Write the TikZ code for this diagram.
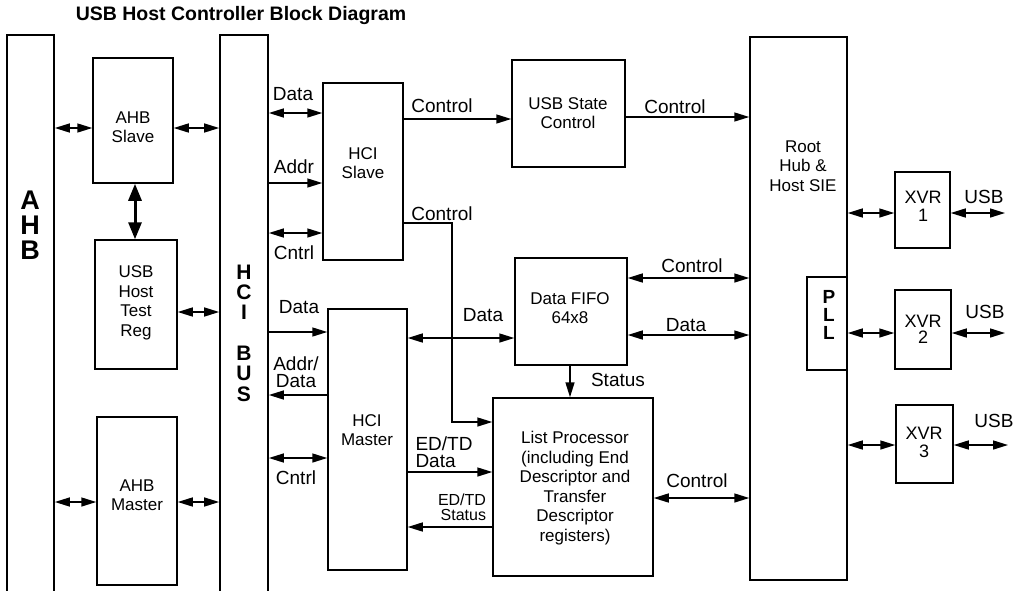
\documentclass[tikz,border=0pt]{standalone}
\usepackage{fontspec}
\setmainfont{Liberation Sans}
\usetikzlibrary{arrows.meta}
\begin{document}
\begin{tikzpicture}[x=1pt,y=-1pt,
  box/.style={draw, line width=1.5pt, inner sep=0pt},
  txt/.style={font=\fontsize{17}{19.5}\selectfont, align=center, inner sep=0pt},
  lbl/.style={font=\fontsize{19}{17.5}\selectfont, align=center, inner sep=0pt},
  big/.style={font=\fontsize{21}{20.3}\selectfont\bfseries, align=center, inner sep=0pt},
  conn/.style={line width=1.5pt},
  >={Triangle[length=15pt,width=9pt]}]
\useasboundingbox (0,0) rectangle (1020,590);
\clip (0,0) rectangle (1020,590);
% title
\node[font=\fontsize{19.5}{19.5}\selectfont\bfseries, inner sep=0pt] (title) at (241,15) {USB Host Controller Block Diagram};
% bars and boxes
\node[box, line width=1.7pt, minimum width=47pt, minimum height=585pt] (ahb) at (30.5,327.5) {};
\node[box, line width=1.7pt, minimum width=48pt, minimum height=585pt] (hcibus) at (244,327.5) {};
\node[box, minimum width=80pt, minimum height=125pt] (ahbslave) at (133,120.5) {};
\node[box, minimum width=82pt, minimum height=129pt] (testreg) at (136,304.5) {};
\node[box, minimum width=80pt, minimum height=168pt] (ahbmaster) at (137,501) {};
\node[box, minimum width=80pt, minimum height=177pt] (hcislave) at (363,171.5) {};
\node[box, minimum width=79pt, minimum height=261pt] (hcimaster) at (367.5,439.5) {};
\node[box, minimum width=113pt, minimum height=107pt] (usbstate) at (568.5,113.5) {};
\node[box, minimum width=112pt, minimum height=107pt] (fifo) at (571,311.5) {};
\node[box, minimum width=160pt, minimum height=178pt] (listproc) at (573,487) {};
\node[box, minimum width=97pt, minimum height=543pt] (roothub) at (798.5,308.5) {};
\node[box, minimum width=40pt, minimum height=93pt] (pll) at (827,323.5) {};
\node[box, minimum width=55pt, minimum height=76pt] (xvr1) at (922.5,210) {};
\node[box, minimum width=56pt, minimum height=79pt] (xvr2) at (923,329.5) {};
\node[box, minimum width=57pt, minimum height=78pt] (xvr3) at (924.5,444) {};
% box texts
\node[font=\fontsize{27}{25}\selectfont\bfseries, align=center, inner sep=0pt] (tahb) at (30,225) {A\\H\\B};
\node[big] (thci) at (244,333) {H\\C\\I\\[20.3pt]B\\U\\S};
\node[txt] (tahbslave) at (133,127) {AHB\\Slave};
\node[txt] (ttestreg) at (136,303) {USB\\Host\\Test\\Reg};
\node[txt] (tahbmaster) at (137,495) {AHB\\Master};
\node[txt] (thcislave) at (363,163) {HCI\\Slave};
\node[txt] (thcimaster) at (367,430) {HCI\\Master};
\node[txt] (tusbstate) at (568,113) {USB State\\Control};
\node[txt] (tfifo) at (570,308) {Data FIFO\\64x8};
\node[txt] (tlistproc) at (575,488) {List Processor\\(including End\\Descriptor and\\Transfer\\Descriptor\\registers)};
\node[txt] (troothub) at (803,166) {Root\\Hub \&\\Host SIE};
\node[font=\fontsize{19}{18}\selectfont\bfseries, align=center, inner sep=0pt] (tpll) at (829,315) {P\\L\\L};
\node[txt, font=\fontsize{18}{18}\selectfont] (txvr1) at (923,206) {XVR\\1};
\node[txt, font=\fontsize{18}{16}\selectfont] (txvr2) at (923,329) {XVR\\2};
\node[txt, font=\fontsize{18}{18}\selectfont] (txvr3) at (924,442) {XVR\\3};
% free ends
\coordinate (usb1) at (1005,213);
\coordinate (usb2) at (1005,333);
\coordinate (usb3) at (1008,445);
% connectors, left side
\draw[conn,<->] (ahb.east |- 0,128) -- (ahbslave.west |- 0,128);
\draw[conn,<->] (ahbslave.east |- 0,128) -- (hcibus.west |- 0,128);
\draw[line width=3pt, {Triangle[length=17pt,width=13pt]}-{Triangle[length=17pt,width=13pt]}] (135,0 |- ahbslave.south) -- (135,0 |- testreg.north);
\draw[conn,<->] (testreg.east |- 0,312) -- (hcibus.west |- 0,312);
\draw[conn,<->] (ahb.east |- 0,502) -- (ahbmaster.west |- 0,502);
\draw[conn,<->] (ahbmaster.east |- 0,502) -- (hcibus.west |- 0,502);
% bus to HCI slave
\draw[conn,<->] (hcibus.east |- 0,113) -- (hcislave.west |- 0,113);
\draw[conn,->] (hcibus.east |- 0,183) -- (hcislave.west |- 0,183);
\draw[conn,<->] (hcibus.east |- 0,233) -- (hcislave.west |- 0,233);
% bus to HCI master
\draw[conn,->] (hcibus.east |- 0,332) -- (hcimaster.west |- 0,332);
\draw[conn,->] (hcimaster.west |- 0,395) -- (hcibus.east |- 0,395);
\draw[conn,<->] (hcibus.east |- 0,458) -- (hcimaster.west |- 0,458);
% middle
\draw[conn,->] (hcislave.east |- 0,119) -- (usbstate.west |- 0,119);
\draw[conn,->] (usbstate.east |- 0,117) -- (roothub.west |- 0,117);
\draw[conn,->] (hcislave.east |- 0,223) -- (452,223) -- (452,422) -- (listproc.west |- 0,422);
\draw[conn,<->] (hcimaster.east |- 0,338) -- (fifo.west |- 0,338);
\draw[conn,->] (hcimaster.east |- 0,472) -- (listproc.west |- 0,472);
\draw[conn,->] (listproc.west |- 0,527) -- (hcimaster.east |- 0,527);
\draw[conn,->] (570,0 |- fifo.south) -- (570,0 |- listproc.north);
\draw[conn,<->] (fifo.east |- 0,278) -- (roothub.west |- 0,278);
\draw[conn,<->] (fifo.east |- 0,335) -- (roothub.west |- 0,335);
\draw[conn,<->] (listproc.east |- 0,498) -- (roothub.west |- 0,498);
% right side
\draw[conn,<->] (roothub.east |- 0,213) -- (xvr1.west |- 0,213);
\draw[conn,<->] (pll.east |- 0,333) -- (xvr2.west |- 0,333);
\draw[conn,<->] (roothub.east |- 0,445) -- (xvr3.west |- 0,445);
\draw[conn,<->] (xvr1.east |- 0,213) -- (usb1);
\draw[conn,<->] (xvr2.east |- 0,333) -- (usb2);
\draw[conn,<->] (xvr3.east |- 0,445) -- (usb3);
% labels
\node[lbl] (l1) at (293,94) {Data};
\node[lbl] (l2) at (294,167) {Addr};
\node[lbl] (l3) at (294,253) {Cntrl};
\node[lbl] (l4) at (442,106) {Control};
\node[lbl] (l5) at (442,214) {Control};
\node[lbl] (l6) at (675,107) {Control};
\node[lbl] (l7) at (692,266) {Control};
\node[lbl] (l8) at (299,307) {Data};
\node[lbl] (l9) at (296,372) {Addr/\\Data};
\node[lbl] (l10) at (296,478) {Cntrl};
\node[lbl] (l11) at (483,315) {Data};
\node[lbl, align=left] (l12) at (444,452) {ED/TD\\Data};
\node[lbl, align=right, font=\fontsize{16}{15}\selectfont] (l13) at (462,507) {ED/TD\\Status};
\node[lbl] (l14) at (618,380) {Status};
\node[lbl] (l15) at (686,325) {Data};
\node[lbl] (l16) at (697,481) {Control};
\node[lbl] (l17) at (984,197) {USB};
\node[lbl] (l18) at (985,312) {USB};
\node[lbl] (l19) at (994,421) {USB};
\end{tikzpicture}
\end{document}
